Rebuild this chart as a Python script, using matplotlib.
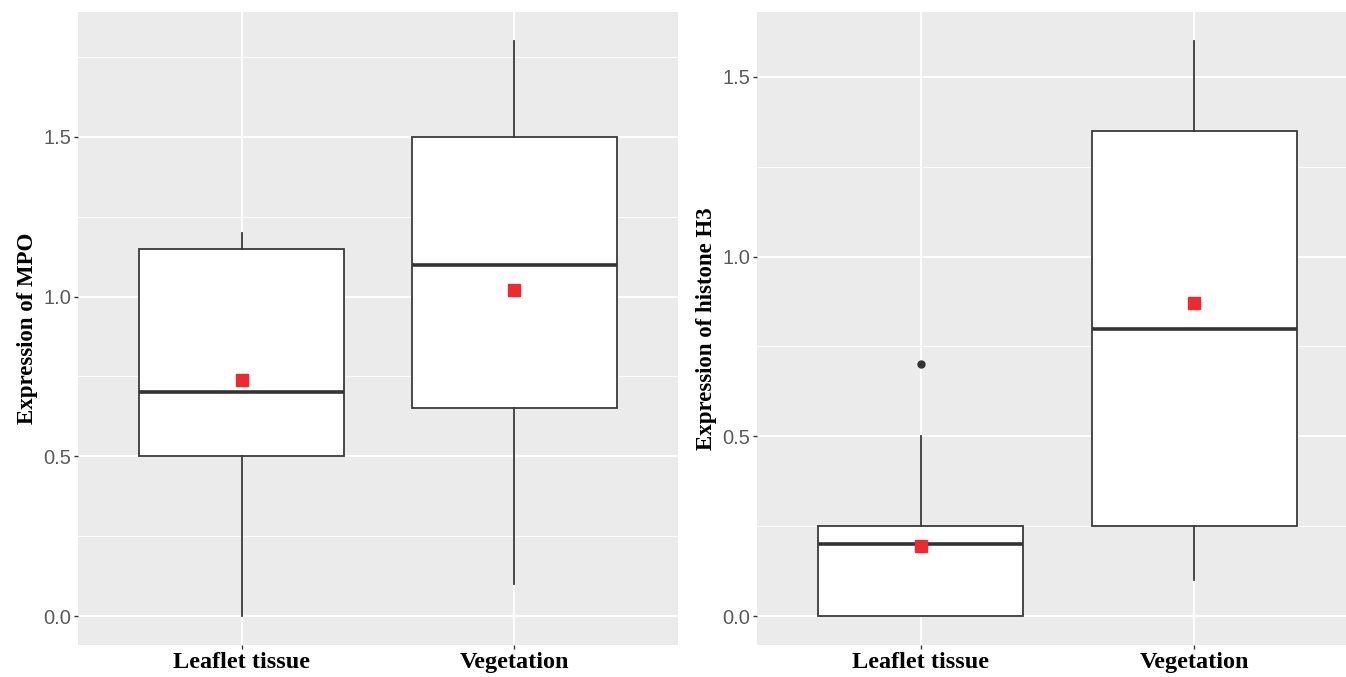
import matplotlib
matplotlib.use("Agg")
import matplotlib.pyplot as plt
import numpy as np

# categories
groups = ["Leaflet tissue", "Vegetation"]

# MPO panel (box stats)
mpo_whislo = [0.0, 0.1]
mpo_q1 = [0.5, 0.65]
mpo_med = [0.7, 1.1]
mpo_q3 = [1.15, 1.5]
mpo_whishi = [1.2, 1.8]
mpo_mean = [0.74, 1.02]
mpo_fliers = [[], []]

# histone H3 panel
h3_whislo = [0.0, 0.1]
h3_q1 = [0.0, 0.25]
h3_med = [0.2, 0.8]
h3_q3 = [0.25, 1.35]
h3_whishi = [0.5, 1.6]
h3_mean = [0.195, 0.87]
h3_fliers = [[0.7], []]

yticks = [0.0, 0.5, 1.0, 1.5]

serif = ["Liberation Serif", "DejaVu Serif"]
sans = ["Liberation Sans", "DejaVu Sans"]


def make_stats(lo, q1, med, q3, hi, mean, fliers):
    stats = []
    for i in range(len(groups)):
        stats.append(dict(whislo=lo[i], q1=q1[i], med=med[i], q3=q3[i],
                          whishi=hi[i], mean=mean[i], fliers=fliers[i],
                          label=groups[i]))
    return stats


def draw_panel(ax, stats, ylabel):
    ax.set_facecolor("#EBEBEB")
    ax.bxp(stats, positions=[1, 2], widths=0.75, showcaps=False,
           showmeans=True, patch_artist=True,
           boxprops=dict(facecolor="white", edgecolor="#3a3a3a", linewidth=1.3),
           whiskerprops=dict(color="#3a3a3a", linewidth=1.3),
           medianprops=dict(color="#333333", linewidth=2.6),
           meanprops=dict(marker="s", markerfacecolor="#EE2A2F",
                          markeredgecolor="#EE2A2F", markersize=8),
           flierprops=dict(marker="o", markerfacecolor="#333333",
                           markeredgecolor="#333333", markersize=5))
    # ggplot style expansion
    vals = [s[k] for s in stats for k in ("whislo", "whishi")]
    vals += [f for s in stats for f in s["fliers"]]
    lo, hi = min(vals), max(vals)
    pad = 0.05 * (hi - lo)
    ax.set_yticks(yticks)
    ax.set_yticklabels(["%.1f" % t for t in yticks], fontfamily=sans,
                       fontsize=14.5, color="#5a5a5a")
    minor = [m for m in (0.25, 0.75, 1.25, 1.75) if lo - pad < m < hi + pad]
    ax.set_yticks(minor, minor=True)
    ax.set_ylim(lo - pad, hi + pad)
    ax.set_xticks([1, 2])
    ax.set_xticklabels(groups, fontfamily=serif, fontweight="bold",
                       fontsize=17.5, color="black")
    ax.set_xlim(0.4, 2.6)
    ax.grid(True, which="major", color="white", linewidth=1.3)
    ax.grid(True, which="minor", axis="y", color="white", linewidth=0.6)
    ax.set_axisbelow(True)
    ax.tick_params(axis="both", which="major", length=3, width=1,
                   color="#333333", pad=2)
    ax.tick_params(axis="y", which="minor", length=0)
    for sp in ax.spines.values():
        sp.set_visible(False)
    ax.set_ylabel(ylabel, fontfamily=serif, fontweight="bold", fontsize=16.5,
                  labelpad=4)


fig = plt.figure(figsize=(13.46, 6.77), dpi=100)
ax1 = fig.add_axes([78 / 1346, 1 - 645 / 677, 600 / 1346, 633 / 677])
ax2 = fig.add_axes([757 / 1346, 1 - 645 / 677, 601 / 1346, 633 / 677])

draw_panel(ax1, make_stats(mpo_whislo, mpo_q1, mpo_med, mpo_q3, mpo_whishi,
                           mpo_mean, mpo_fliers), "Expression of MPO")
draw_panel(ax2, make_stats(h3_whislo, h3_q1, h3_med, h3_q3, h3_whishi,
                           h3_mean, h3_fliers), "Expression of histone H3")

fig.savefig("out.png", dpi=100)
